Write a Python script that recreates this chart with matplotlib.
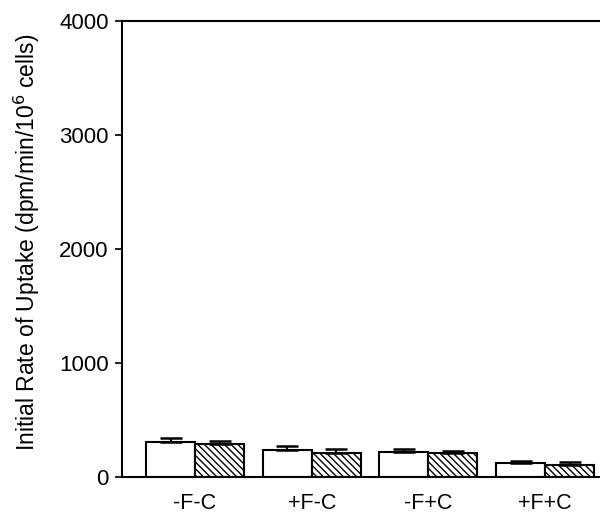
import matplotlib
matplotlib.use("Agg")
import matplotlib.pyplot as plt
import numpy as np

plt.rcParams['font.family'] = ['Liberation Sans', 'DejaVu Sans']
plt.rcParams['hatch.linewidth'] = 1.0

categories = ["-F-C", "+F-C", "-F+C", "+F+C"]
open_vals = [307, 240, 219, 120]
open_err = [33, 32, 29, 23]
hatched_vals = [287, 213, 208, 105]
hatched_err = [26, 30, 23, 27]

fig = plt.figure(figsize=(6.0, 5.17), dpi=100)
ax = fig.add_axes([122/600, 40/517, 478/600, 456/517])

x = np.arange(len(categories))
w = 0.42
ekw = dict(ecolor='black', elinewidth=1.5, capsize=8, capthick=1.8)
ax.bar(x - w/2, open_vals, w, color='white', edgecolor='black', linewidth=1.5,
       yerr=[np.zeros(4), open_err], error_kw=ekw)
ax.bar(x + w/2, hatched_vals, w, color='white', edgecolor='black', linewidth=1.5, hatch='\\\\\\\\\\',
       yerr=[np.zeros(4), hatched_err], error_kw=ekw)

ax.set_xlim(-0.626, 3.47)
ax.set_ylim(0, 4000)
ax.set_yticks([0, 1000, 2000, 3000, 4000])
ax.set_xticks(x)
ax.set_xticklabels(categories)
ax.tick_params(axis='x', length=0, pad=11.5, labelsize=15.5)
ax.tick_params(axis='y', length=5, width=1.2, pad=4.5, labelsize=16, direction='out')
for s in ['left', 'top', 'bottom']:
    ax.spines[s].set_linewidth(1.5)
ax.spines['right'].set_visible(False)
ax.set_ylabel("Initial Rate of Uptake (dpm/min/10$^{6}$ cells)", fontsize=16.5)
ax.yaxis.set_label_coords(-0.167, 0.515)

fig.savefig("out.png", dpi=100)
